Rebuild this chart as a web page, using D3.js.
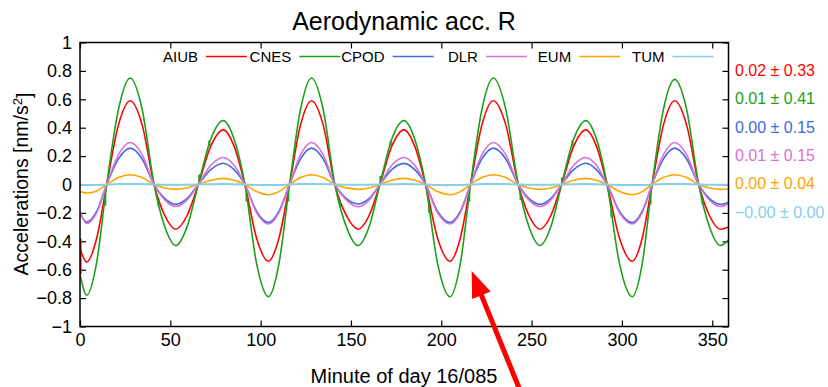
<!DOCTYPE html>
<html>
<head>
<meta charset="utf-8">
<script src="https://cdn.jsdelivr.net/npm/d3@7"></script>
<style>
body { margin: 0; background: #fff; }
text { font-family: "Liberation Sans", Arial, sans-serif; fill: #000; }
</style>
</head>
<body>
<svg id="chart" width="828" height="387"></svg>
<script>
// sample minutes (extrema, zero crossings and points in between)
const minutes = [0, 3.7, 9.2, 14.8, 21.3, 27.8, 34.4, 41, 47, 53, 59.2, 65.5, 72.4, 79.3, 85.3, 91.3, 97.8,
    104.3, 110.1, 116, 122.1, 128.2, 134.6, 141.1, 147.5, 154, 160, 166, 172.6, 179.3, 185.3, 191.3, 198,
    204.8, 210.5, 216.2, 222.5, 228.8, 235.7, 242.6, 248.6, 254.6, 260.6, 266.6, 273.3, 280, 285.9, 291.8, 298.7,
    305.7, 311.2, 316.7, 323, 329.2, 335.8, 342.5, 348.5, 354.5, 359]

const aiub = [-0.45, -0.545, -0.38, 0, 0.42, 0.59, 0.42, 0, -0.22, -0.315, -0.22, 0, 0.27, 0.385, 0.27, 0, -0.38,
    -0.54, -0.38, 0, 0.42, 0.59, 0.42, 0, -0.22, -0.315, -0.22, 0, 0.27, 0.385, 0.27, 0, -0.38,
    -0.54, -0.38, 0, 0.42, 0.59, 0.42, 0, -0.22, -0.315, -0.22, 0, 0.27, 0.385, 0.27, 0, -0.38,
    -0.54, -0.38, 0, 0.42, 0.59, 0.42, 0, -0.22, -0.315, -0.30]
const cnes = [-0.63, -0.78, -0.55, 0, 0.53, 0.75, 0.53, 0, -0.30, -0.43, -0.30, 0, 0.32, 0.45, 0.32, 0, -0.56,
    -0.79, -0.56, 0, 0.53, 0.75, 0.53, 0, -0.30, -0.43, -0.30, 0, 0.32, 0.45, 0.32, 0, -0.56,
    -0.79, -0.56, 0, 0.53, 0.75, 0.53, 0, -0.30, -0.43, -0.30, 0, 0.32, 0.45, 0.32, 0, -0.56,
    -0.79, -0.56, 0, 0.53, 0.74, 0.53, 0, -0.30, -0.43, -0.39]
const cpod = [-0.20, -0.265, -0.19, 0, 0.18, 0.256, 0.18, 0, -0.10, -0.14, -0.10, 0, 0.105, 0.15, 0.105, 0, -0.19,
    -0.268, -0.19, 0, 0.18, 0.256, 0.18, 0, -0.10, -0.137, -0.10, 0, 0.105, 0.149, 0.105, 0, -0.19,
    -0.268, -0.19, 0, 0.18, 0.256, 0.18, 0, -0.10, -0.14, -0.10, 0, 0.105, 0.15, 0.105, 0, -0.19,
    -0.268, -0.19, 0, 0.18, 0.256, 0.18, 0, -0.10, -0.14, -0.125]
const dlr = [-0.19, -0.275, -0.20, 0, 0.21, 0.296, 0.21, 0, -0.11, -0.155, -0.11, 0, 0.135, 0.19, 0.135, 0, -0.20,
    -0.278, -0.20, 0, 0.21, 0.296, 0.21, 0, -0.11, -0.156, -0.11, 0, 0.135, 0.19, 0.135, 0, -0.20,
    -0.278, -0.20, 0, 0.21, 0.296, 0.21, 0, -0.11, -0.155, -0.11, 0, 0.135, 0.19, 0.135, 0, -0.20,
    -0.278, -0.20, 0, 0.21, 0.296, 0.21, 0, -0.11, -0.155, -0.135]
const eum = [-0.05, -0.06, -0.045, 0, 0.049, 0.069, 0.049, 0, -0.024, -0.034, -0.024, 0, 0.03, 0.043, 0.03, 0, -0.05,
    -0.072, -0.05, 0, 0.049, 0.069, 0.049, 0, -0.024, -0.034, -0.024, 0, 0.03, 0.043, 0.03, 0, -0.05,
    -0.072, -0.05, 0, 0.049, 0.069, 0.049, 0, -0.024, -0.034, -0.024, 0, 0.03, 0.043, 0.03, 0, -0.05,
    -0.072, -0.05, 0, 0.049, 0.069, 0.049, 0, -0.024, -0.034, -0.032]
const tum = [0, -0.004, -0.003, 0, 0.003, 0.004, 0.003, 0, -0.002, -0.002, -0.002, 0, 0.002, 0.003, 0.002, 0, -0.003,
    -0.004, -0.003, 0, 0.003, 0.004, 0.003, 0, -0.002, -0.002, -0.002, 0, 0.002, 0.003, 0.002, 0, -0.003,
    -0.004, -0.003, 0, 0.003, 0.004, 0.003, 0, -0.002, -0.002, -0.002, 0, 0.002, 0.003, 0.002, 0, -0.003,
    -0.004, -0.003, 0, 0.003, 0.004, 0.003, 0, -0.002, -0.002, -0.002]

const seriesNames = ['AIUB', 'CNES', 'CPOD', 'DLR', 'EUM', 'TUM']
const seriesColors = ['#ff0000', '#1ca01c', '#4169e1', '#da70d6', '#ffa500', '#87ceeb']
const seriesStats = ['0.02 \u00b1 0.33', '0.01 \u00b1 0.41', '0.00 \u00b1 0.15', '0.01 \u00b1 0.15', '0.00 \u00b1 0.04', '\u22120.00 \u00b1 0.00']
const xTicks = [0, 50, 100, 150, 200, 250, 300, 350]
const yTicks = [-1, -0.8, -0.6, -0.4, -0.2, 0, 0.2, 0.4, 0.6, 0.8, 1]

// small vertical jumps in the data: [minute, from, to]
const aiubJumps = [[0.3, -0.38, -0.63]]
const cnesJumps = [[14, -0.07, -0.15], [43.4, -0.11, -0.15], [66, 0.02, 0.07], [71.6, 0.27, 0.31],
    [92.2, -0.06, -0.12], [115.3, -0.05, -0.12], [143.9, -0.12, -0.16], [166.3, 0.01, 0.06], [172, 0.27, 0.31],
    [193.3, -0.15, -0.20], [215.5, -0.05, -0.12], [243.9, -0.06, -0.11], [266.8, 0.0, 0.05], [272.6, 0.27, 0.31],
    [294.2, -0.18, -0.23], [315.8, -0.07, -0.14], [344.6, -0.09, -0.14]]

// red annotation arrow in data units [minute, value]
const arrowTip = [216.8, -0.61]
const arrowTail = [243.6, -1.45]

const seriesValues = [aiub, cnes, cpod, dlr, eum, tum]
const seriesJumps = [aiubJumps, cnesJumps, [], [], [], []]

let xScale = d3.scaleLinear().domain([0, 359]).range([80, 728.5])
let yScale = d3.scaleLinear().domain([-1, 1]).range([326.5, 42.5])
let svg = d3.select('#chart')

svg.append('defs').append('clipPath').attr('id', 'plotclip')
    .append('rect')
    .attr('x', xScale(0)).attr('y', yScale(1))
    .attr('width', xScale(359) - xScale(0)).attr('height', yScale(-1) - yScale(1))

//axes, ticks pointing inwards, mirrored on top and right
function styleAxis(g, size) {
    g.attr('font-size', size)
    g.select('.domain').remove()
    g.selectAll('.tick line').attr('stroke', '#000').attr('stroke-width', 1.2)
}
svg.append('g')
    .attr('transform', `translate(0, ${yScale(-1)})`)
    .call(d3.axisBottom(xScale).tickValues(xTicks).tickSize(-6).tickPadding(7).tickFormat(d3.format('d')))
    .call(styleAxis, 18)
svg.append('g')
    .attr('transform', `translate(0, ${yScale(1)})`)
    .call(d3.axisTop(xScale).tickValues(xTicks).tickSize(-6).tickFormat(''))
    .call(styleAxis, 18)
svg.append('g')
    .attr('transform', `translate(${xScale(0)}, 0)`)
    .call(d3.axisLeft(yScale).tickValues(yTicks).tickSize(-6).tickPadding(8).tickFormat(d3.format('~g')))
    .call(styleAxis, 18)
svg.append('g')
    .attr('transform', `translate(${xScale(359)}, 0)`)
    .call(d3.axisRight(yScale).tickValues(yTicks).tickSize(-6).tickFormat(''))
    .call(styleAxis, 18)

//series lines
let line = d3.line()
    .x(d => xScale(d[0]))
    .y(d => yScale(d[1]))
    .curve(d3.curveMonotoneX)
let plot = svg.append('g').attr('clip-path', 'url(#plotclip)')
seriesValues.forEach(function (vals, i) {
    let pts = minutes.map((m, j) => [m, vals[j]])
    plot.append('path')
        .attr('d', line(pts))
        .attr('fill', 'none')
        .attr('stroke', seriesColors[i])
        .attr('stroke-width', i == 5 ? 2 : 1.6)
    plot.selectAll(null)
        .data(seriesJumps[i])
        .enter()
        .append('line')
        .attr('x1', d => xScale(d[0])).attr('x2', d => xScale(d[0]))
        .attr('y1', d => yScale(d[1])).attr('y2', d => yScale(d[2]))
        .attr('stroke', seriesColors[i])
        .attr('stroke-width', 2)
})

//frame
svg.append('rect')
    .attr('x', xScale(0)).attr('y', yScale(1))
    .attr('width', xScale(359) - xScale(0)).attr('height', yScale(-1) - yScale(1))
    .attr('fill', 'none')
    .attr('stroke', '#000')
    .attr('stroke-width', 1.5)

//legend (text then line sample, gnuplot style)
seriesNames.forEach(function (name, i) {
    let sx = 206 + i * 93.3
    svg.append('line')
        .attr('x1', sx).attr('x2', sx + 41)
        .attr('y1', 56.5).attr('y2', 56.5)
        .attr('stroke', seriesColors[i])
        .attr('stroke-width', 1.6)
    svg.append('text')
        .attr('x', sx - 8)
        .attr('y', 56.5)
        .attr('dy', '0.35em')
        .attr('text-anchor', 'end')
        .style('font-size', '15px')
        .text(name)
})

//mean +- sigma on the right
seriesStats.forEach(function (s, i) {
    svg.append('text')
        .attr('x', 735)
        .attr('y', 70.5 + i * 28.3)
        .attr('dy', '0.35em')
        .style('font-size', '16px')
        .style('fill', seriesColors[i])
        .text(s)
})

//title and labels
svg.append('text')
    .attr('x', 404).attr('y', 21.5).attr('dy', '0.35em')
    .attr('text-anchor', 'middle')
    .style('font-size', '25px')
    .text('Aerodynamic acc. R')
svg.append('text')
    .attr('x', 404).attr('y', 375.5).attr('dy', '0.35em')
    .attr('text-anchor', 'middle')
    .style('font-size', '20px')
    .text('Minute of day 16/085')
let ylab = svg.append('text')
    .attr('transform', `translate(21, 184) rotate(-90)`)
    .attr('dy', '0.35em')
    .attr('text-anchor', 'middle')
    .style('font-size', '19.5px')
ylab.append('tspan').text('Accelerations [nm/s')
ylab.append('tspan').attr('dy', '-0.45em').style('font-size', '13px').text('2')
ylab.append('tspan').attr('dy', '0.45em').text(']')

//red arrow
let tip = [xScale(arrowTip[0]), yScale(arrowTip[1])]
let tail = [xScale(arrowTail[0]), yScale(arrowTail[1])]
let len = Math.hypot(tail[0] - tip[0], tail[1] - tip[1])
let ux = (tail[0] - tip[0]) / len, uy = (tail[1] - tip[1]) / len
let headLen = 26, headHalf = 10
let base = [tip[0] + ux * headLen, tip[1] + uy * headLen]
svg.append('line')
    .attr('x1', base[0] - ux * 2).attr('y1', base[1] - uy * 2)
    .attr('x2', tail[0]).attr('y2', tail[1])
    .attr('stroke', '#ff0000')
    .attr('stroke-width', 5)
svg.append('path')
    .attr('d', `M${tip[0]},${tip[1]} L${base[0] - uy * headHalf},${base[1] + ux * headHalf} L${base[0] + uy * headHalf},${base[1] - ux * headHalf} Z`)
    .attr('fill', '#ff0000')
</script>
</body>
</html>
